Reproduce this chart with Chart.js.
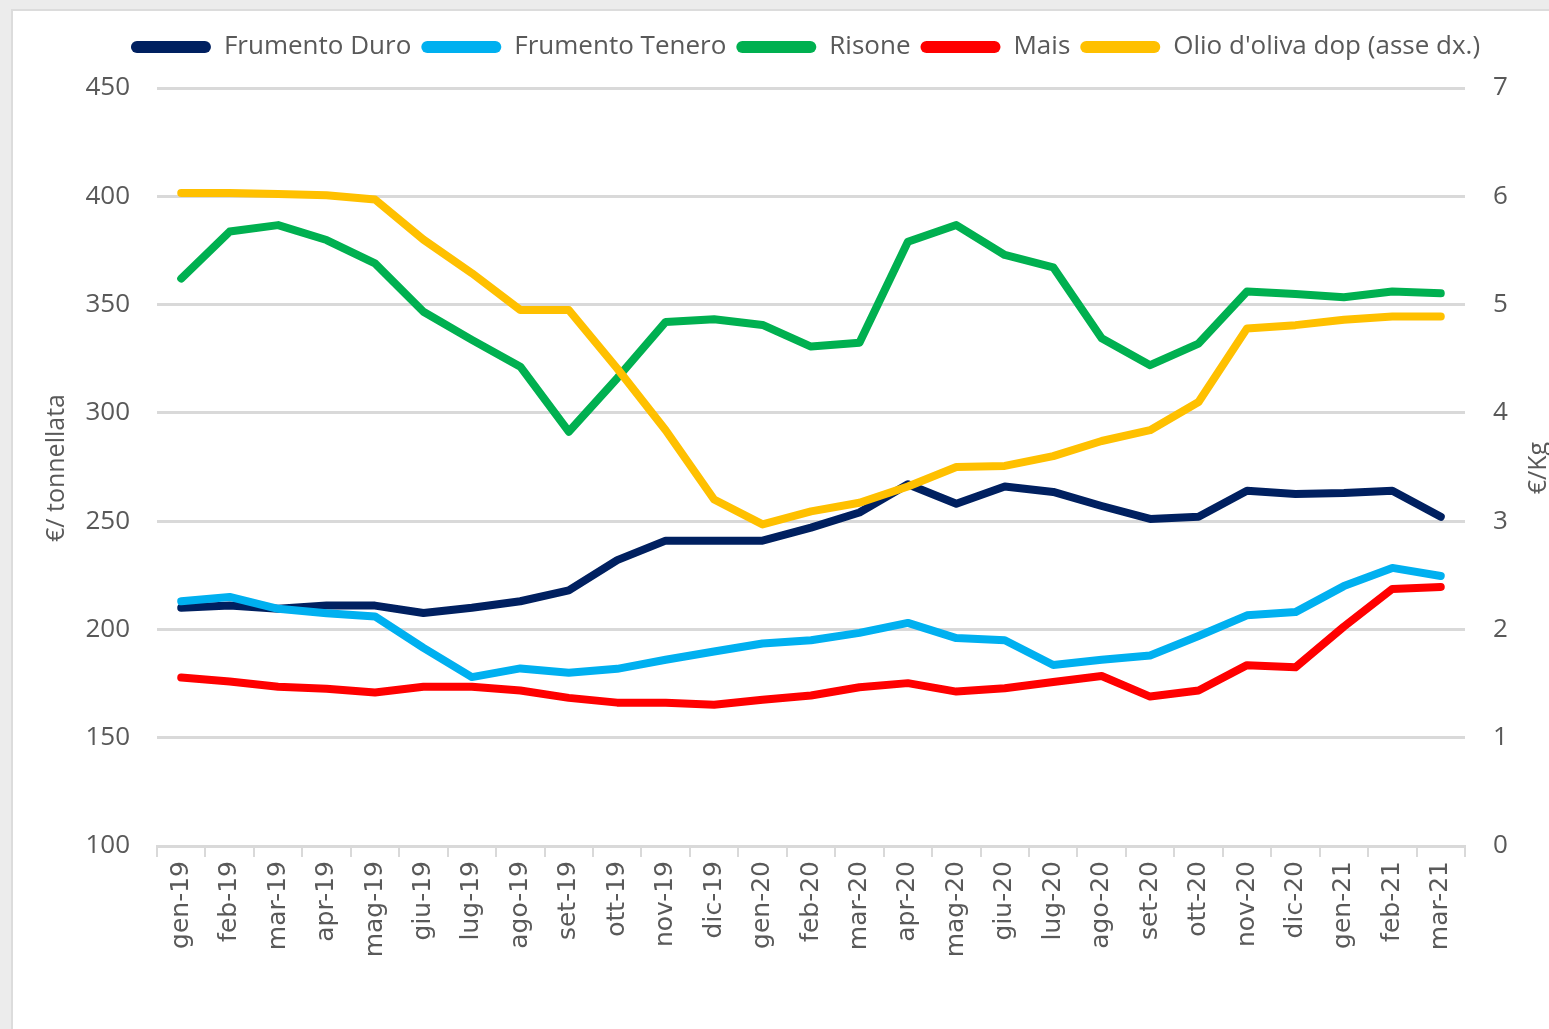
<!DOCTYPE html>
<html>
<head>
<meta charset="utf-8">
<script src="https://cdn.jsdelivr.net/npm/chart.js@4/dist/chart.umd.min.js"></script>
<style>
  html, body { margin: 0; padding: 0; width: 1549px; height: 1029px; overflow: hidden; background: #ececec; }
  #paper { position: absolute; left: 11px; top: 9px; width: 1538px; height: 1020px; background: #ffffff;
           border-left: 2px solid #dcdcdc; border-top: 2px solid #dcdcdc; box-sizing: border-box; }
  #wrap { position: absolute; left: 0; top: 0; width: 1549px; height: 1029px; }
</style>
</head>
<body>
<div id="paper"></div>
<div id="wrap"><canvas id="c" width="1549" height="1029"></canvas></div>
<script>
const months = ['gen-19','feb-19','mar-19','apr-19','mag-19','giu-19','lug-19','ago-19','set-19','ott-19','nov-19','dic-19',
                'gen-20','feb-20','mar-20','apr-20','mag-20','giu-20','lug-20','ago-20','set-20','ott-20','nov-20','dic-20',
                'gen-21','feb-21','mar-21'];
const frumentoDuro   = [210,211,209.5,211,211,207.6,210,213,218,232,241,241,241,247,254,267,258,266,263.5,257,251,252,264,262.5,263,264,252];
const frumentoTenero = [213,215,209.5,207.5,206,191.5,178,182,180,181.8,186,189.8,193.5,195,198.4,203,196,195,183.6,186,188,197,206.5,208,220,228.4,224.7];
const risone         = [362,383.7,386.7,379.8,369,346.7,333.7,321.3,291.3,316,342,343.2,340.6,330.6,332.4,379,386.7,372.9,367.2,334.4,322,332,356,354.9,353.4,356,355.2];
const mais           = [177.8,176,173.5,172.6,170.9,173.5,173.5,171.8,168.4,166.2,166.2,165.2,167.5,169.5,173.3,175.2,171.3,172.8,175.7,178.5,169,171.8,183.5,182.5,201.3,218.7,219.6];
const olioDop        = [6.03,6.03,6.02,6.01,5.97,5.6,5.29,4.95,4.95,4.41,3.84,3.2,2.97,3.09,3.17,3.32,3.5,3.51,3.6,3.74,3.84,4.1,4.78,4.81,4.86,4.89,4.89];
const leftTicks  = { min: 100, max: 450, step: 50 };
const rightTicks = { min: 0, max: 7, step: 1 };

const GRAY = '#595959';
const GRID = '#d9d9d9';
const PAD_TOP = 24;
const PLOT_TOP = 88;

function ds(label, data, color, axis, order) {
  return { label, data, borderColor: color, backgroundColor: color, yAxisID: axis, order,
           borderWidth: 8, pointRadius: 0, pointHoverRadius: 0, tension: 0,
           borderCapStyle: 'round', borderJoinStyle: 'round', fill: false };
}

const legendHeight = {
  id: 'legendHeight',
  afterInit(chart) {
    const lg = chart.legend;
    if (!lg) return;
    const origFit = lg.fit;
    lg.fit = function () { origFit.call(this); this.height = PLOT_TOP - PAD_TOP; };
  }
};

const axisTitles = {
  id: 'axisTitles',
  afterDraw(chart) {
    const ctx = chart.ctx;
    [['€/ tonnellata', 57], ['€/Kg', 1539]].forEach(([txt, x]) => {
      ctx.save();
      ctx.fillStyle = GRAY;
      ctx.font = '25px "Open Sans"';
      ctx.textAlign = 'center';
      ctx.textBaseline = 'middle';
      ctx.translate(x, 468);
      ctx.rotate(-Math.PI / 2);
      ctx.fillText(txt, 0, 0);
      ctx.restore();
    });
  }
};

new Chart(document.getElementById('c'), {
  type: 'line',
  data: {
    labels: months,
    datasets: [
      ds('Frumento Duro', frumentoDuro, '#002060', 'y', 5),
      ds('Frumento Tenero', frumentoTenero, '#00B0F0', 'y', 4),
      ds('Risone', risone, '#00B050', 'y', 3),
      ds('Mais', mais, '#FF0000', 'y', 2),
      ds("Olio d'oliva dop (asse dx.)", olioDop, '#FFC000', 'y1', 1)
    ]
  },
  options: {
    responsive: false,
    animation: false,
    events: [],
    layout: { padding: { top: PAD_TOP, left: 62, right: 0, bottom: 0 } },
    plugins: {
      tooltip: { enabled: false },
      legend: {
        position: 'top',
        labels: {
          color: GRAY,
          font: { family: '"Open Sans"', size: 26 },
          boxWidth: 80,
          boxHeight: 12,
          padding: 10,
          useBorderRadius: true,
          borderRadius: 6,
          generateLabels(chart) {
            const items = Chart.defaults.plugins.legend.labels.generateLabels(chart);
            items.forEach(it => { it.lineWidth = 0; });
            return items.sort((a, b) => a.datasetIndex - b.datasetIndex);
          }
        }
      }
    },
    scales: {
      x: {
        type: 'category',
        offset: true,
        grid: { display: true, drawOnChartArea: false, drawTicks: true, tickLength: 11, offset: true, color: GRID, lineWidth: 2 },
        border: { display: true, color: GRID, width: 3 },
        ticks: { autoSkip: false, maxRotation: 90, minRotation: 90, padding: 4, color: GRAY,
                 font: { family: '"DejaVu Sans"', size: 25 } },
        afterFit(s) { s.height = 1029 - 846; }
      },
      y: {
        position: 'left',
        min: leftTicks.min, max: leftTicks.max,
        ticks: { stepSize: leftTicks.step, padding: 27, color: GRAY, font: { family: '"Open Sans"', size: 26 } },
        grid: { color: GRID, lineWidth: 3, drawTicks: false },
        border: { display: false },
        afterFit(s) { s.width = 157 - 62; }
      },
      y1: {
        position: 'right',
        min: rightTicks.min, max: rightTicks.max,
        ticks: { stepSize: rightTicks.step, padding: 28, color: GRAY, font: { family: '"Open Sans"', size: 26 } },
        grid: { drawOnChartArea: false, drawTicks: false },
        border: { display: false },
        afterFit(s) { s.width = 1549 - 1465; }
      }
    }
  },
  plugins: [legendHeight, axisTitles]
});
</script>
</body>
</html>
